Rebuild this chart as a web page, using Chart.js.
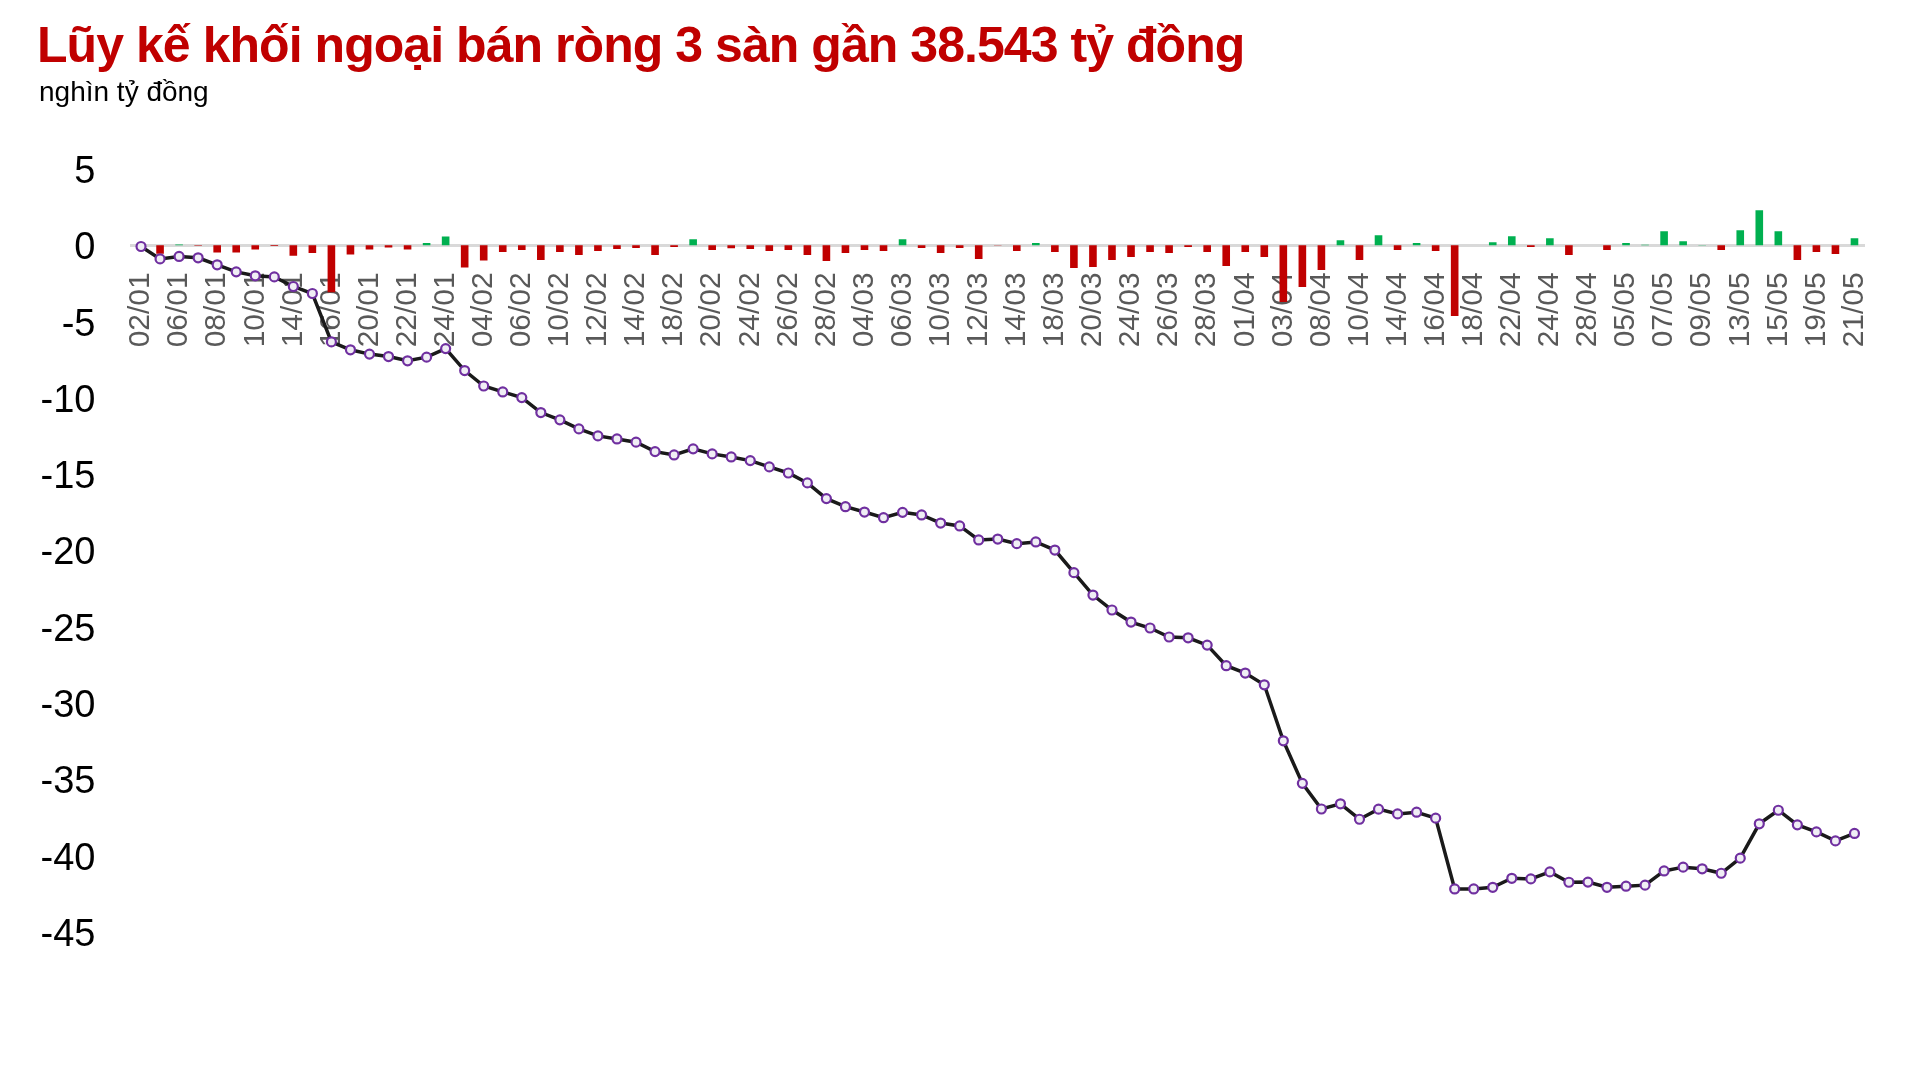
<!DOCTYPE html>
<html lang="vi">
<head>
<meta charset="utf-8">
<title>Lũy kế khối ngoại bán ròng</title>
<script src="https://cdn.jsdelivr.net/npm/chart.js"></script>
<style>
    body { margin: 0; background: #fff; }
    #wrap { position: relative; width: 1923px; height: 1088px; overflow: hidden; }
    #title {
        position: absolute; left: 37px; top: 20px; margin: 0;
        font: bold 50px "Liberation Sans", Arial, sans-serif; line-height: 50px;
        letter-spacing: -0.95px;
        color: #c00000; white-space: nowrap;
    }
    #unit {
        position: absolute; left: 39px; top: 78px;
        font: 28px "Liberation Sans", Arial, sans-serif; line-height: 28px;
        color: #000; white-space: nowrap;
    }
    #myChart { position: absolute; left: 0; top: 0; }
</style>
</head>
<body>
<div id="wrap">
    <canvas id="myChart" width="1923" height="1088"></canvas>
    <h1 id="title">Lũy kế khối ngoại bán ròng 3 sàn gần 38.543 tỷ đồng</h1>
    <div id="unit">nghìn tỷ đồng</div>
</div>
<script>
// phiên giao dịch
var dates = [
    '02/01','03/01','06/01','07/01','08/01','09/01','10/01','13/01','14/01','15/01','16/01','17/01',
    '20/01','21/01','22/01','23/01','24/01',
    '03/02','04/02','05/02','06/02','07/02','10/02','11/02','12/02','13/02','14/02','17/02','18/02',
    '19/02','20/02','21/02','24/02','25/02','26/02','27/02','28/02',
    '03/03','04/03','05/03','06/03','07/03','10/03','11/03','12/03','13/03','14/03','17/03','18/03',
    '19/03','20/03','21/03','24/03','25/03','26/03','27/03','28/03','31/03',
    '01/04','02/04','03/04','04/04','08/04','09/04','10/04','11/04','14/04','15/04','16/04','17/04',
    '18/04','21/04','22/04','23/04','24/04','25/04','28/04','29/04',
    '05/05','06/05','07/05','08/05','09/05','12/05','13/05','14/05','15/05','16/05','19/05','20/05','21/05'
];

// nhãn trục hoành được hiện (cách một phiên)
var tickLabels = [
    '02/01','06/01','08/01','10/01','14/01','16/01','20/01','22/01','24/01','04/02','06/02','10/02',
    '12/02','14/02','18/02','20/02','24/02','26/02','28/02','04/03','06/03','10/03','12/03','14/03',
    '18/03','20/03','24/03','26/03','28/03','01/04','03/04','08/04','10/04','14/04','16/04','18/04',
    '22/04','24/04','28/04','05/05','07/05','09/05','13/05','15/05','19/05','21/05'
];

// mua/bán ròng từng phiên (nghìn tỷ đồng)
var daily = [
    -0.08, -0.55, 0.05, -0.03, -0.48, -0.48, -0.28, -0.05, -0.68, -0.50, -3.08, -0.61,
    -0.28, -0.15, -0.28, 0.15, 0.57,
    -1.46, -1.00, -0.44, -0.31, -0.96, -0.44, -0.63, -0.37, -0.24, -0.17, -0.63, -0.11,
    0.39, -0.31, -0.20, -0.24, -0.37, -0.31, -0.63, -1.03,
    -0.50, -0.31, -0.37, 0.39, -0.17, -0.50, -0.17, -0.90, -0.02, -0.37, 0.15, -0.44,
    -1.49, -1.42, -0.96, -0.77, -0.44, -0.50, -0.11, -0.44, -1.36,
    -0.44, -0.77, -3.72, -2.73, -1.62, 0.33, -0.96, 0.66, -0.31, 0.15, -0.37, -4.63,
    0.00, 0.20, 0.59, -0.11, 0.46, -0.63, 0.01, -0.31,
    0.15, 0.03, 0.92, 0.26, 0.02, -0.31, 0.98, 2.30, 0.92, -0.96, -0.44, -0.57, 0.46
];

// lũy kế (nghìn tỷ đồng)
var cumulative = [
    -0.08, -0.89, -0.73, -0.82, -1.28, -1.74, -2.00, -2.07, -2.70, -3.16, -6.33, -6.85,
    -7.13, -7.29, -7.57, -7.33, -6.77,
    -8.21, -9.22, -9.61, -9.98, -10.96, -11.44, -12.03, -12.49, -12.69, -12.90, -13.52, -13.74,
    -13.34, -13.67, -13.87, -14.11, -14.52, -14.92, -15.57, -16.60,
    -17.13, -17.48, -17.85, -17.50, -17.67, -18.20, -18.39, -19.31, -19.25, -19.55, -19.44, -19.97,
    -21.45, -22.92, -23.90, -24.69, -25.08, -25.67, -25.72, -26.20, -27.55,
    -28.03, -28.80, -32.47, -35.26, -36.94, -36.60, -37.61, -36.95, -37.26, -37.15, -37.54, -42.18,
    -42.18, -42.07, -41.48, -41.52, -41.06, -41.74, -41.73, -42.07,
    -42.00, -41.93, -41.00, -40.75, -40.86, -41.15, -40.16, -37.91, -37.02, -37.98, -38.44, -39.03, -38.54
];

var yMin = -45;
var yMax = 5;
var yStep = 5;

function barColors(values) {
    return values.map(function (v) { return v >= 0 ? '#00b050' : '#c00000'; });
}

function drawChart(id) {
    var ctx = document.getElementById(id).getContext('2d');
    var myChart = new Chart(ctx, {
        type: 'bar',
        data: {
            labels: dates,
            datasets: [
                {
                    type: 'line',
                    label: 'Lũy kế',
                    data: cumulative,
                    borderColor: '#1a1a1a',
                    borderWidth: 3.5,
                    pointRadius: 4.5,
                    pointBorderWidth: 2.2,
                    pointBorderColor: '#7030a0',
                    pointBackgroundColor: '#f0eef5',
                    tension: 0,
                    order: 0
                },
                {
                    type: 'bar',
                    label: 'Mua/bán ròng',
                    data: daily,
                    backgroundColor: barColors(daily),
                    barPercentage: 0.8,
                    categoryPercentage: 0.5,
                    order: 1
                }
            ]
        },
        options: {
            responsive: false,
            animation: false,
            layout: {
                padding: { left: 39, top: 169, right: 59, bottom: 156 }
            },
            plugins: {
                legend: { display: false },
                tooltip: { enabled: false },
                title: { display: false }
            },
            scales: {
                x: {
                    position: { y: 0 },
                    offset: true,
                    grid: { display: false, drawTicks: false },
                    border: { display: true, color: '#d9d9d9', width: 3 },
                    ticks: {
                        autoSkip: false,
                        minRotation: 90,
                        maxRotation: 90,
                        padding: 27,
                        color: '#595959',
                        font: { family: '"Liberation Sans", Arial, sans-serif', size: 30 },
                        callback: function (value) {
                            var lab = this.getLabelForValue(value);
                            return tickLabels.indexOf(lab) >= 0 ? lab : '';
                        }
                    }
                },
                y: {
                    min: yMin,
                    max: yMax,
                    grid: { display: false, drawTicks: false },
                    border: { display: false },
                    afterFit: function (scale) { scale.width = 92.5; },
                    ticks: {
                        stepSize: yStep,
                        padding: 36,
                        labelOffset: 3.5,
                        color: '#000',
                        font: { family: '"Liberation Sans", Arial, sans-serif', size: 38 }
                    }
                }
            }
        }
    });
    return myChart;
}

drawChart('myChart');
</script>
</body>
</html>
